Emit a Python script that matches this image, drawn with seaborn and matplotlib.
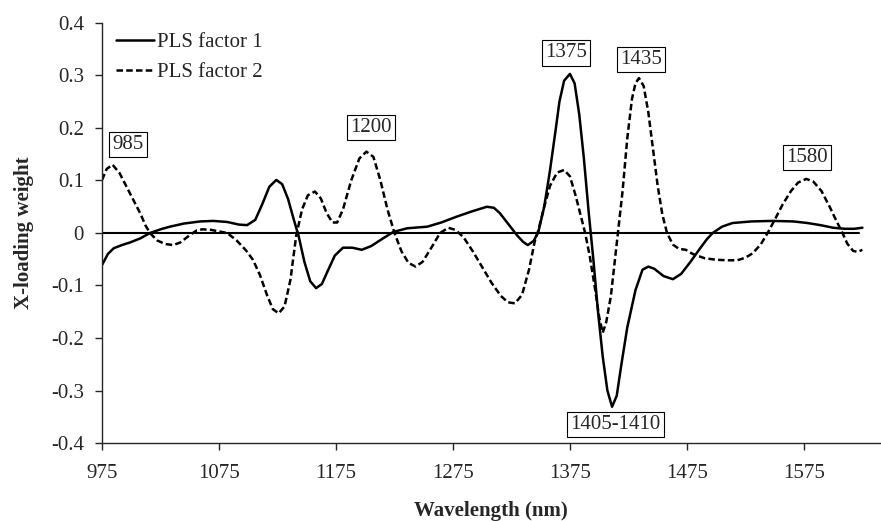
import numpy as np
import pandas as pd
import matplotlib
matplotlib.use("Agg")
import matplotlib.pyplot as plt
import seaborn as sns

# PLS x-loading weights
wl_f1 = [975, 980, 985, 992, 999, 1008, 1016, 1025, 1033, 1045, 1059, 1070, 1082, 1092, 1099,
         1106, 1112, 1118, 1124, 1129, 1134, 1139, 1143, 1148, 1153, 1158, 1163, 1168, 1174,
         1181, 1189, 1197, 1205, 1214, 1224, 1236, 1253, 1265, 1278, 1291, 1304, 1310, 1315,
         1322, 1330, 1335, 1339, 1344, 1348, 1353, 1358, 1363, 1366, 1370, 1375, 1379, 1383,
         1387, 1391, 1395, 1399, 1403, 1407, 1411, 1415, 1419, 1424, 1431, 1437, 1442, 1447,
         1455, 1463, 1470, 1478, 1486, 1492, 1497, 1505, 1514, 1530, 1548, 1566, 1578, 1589,
         1600, 1610, 1618, 1625]
factor1 = [-0.061, -0.040, -0.029, -0.023, -0.018, -0.010, 0.000, 0.007, 0.012, 0.018, 0.022,
           0.023, 0.021, 0.016, 0.015, 0.025, 0.055, 0.088, 0.101, 0.093, 0.065, 0.025, -0.005,
           -0.055, -0.092, -0.105, -0.097, -0.072, -0.043, -0.028, -0.028, -0.032, -0.025,
           -0.012, 0.002, 0.009, 0.012, 0.020, 0.031, 0.041, 0.050, 0.048, 0.038, 0.018, -0.005,
           -0.017, -0.023, -0.015, 0.002, 0.050, 0.120, 0.200, 0.250, 0.290, 0.303, 0.285, 0.225,
           0.140, 0.040, -0.050, -0.150, -0.235, -0.300, -0.331, -0.310, -0.250, -0.180, -0.109,
           -0.070, -0.064, -0.068, -0.082, -0.088, -0.078, -0.055, -0.030, -0.012, 0.000, 0.012,
           0.019, 0.022, 0.023, 0.022, 0.019, 0.015, 0.010, 0.008, 0.008, 0.010]

wl_f2 = [975, 979, 984, 990, 996, 1002, 1008, 1012, 1016, 1022, 1029, 1036, 1042, 1050, 1056,
         1061, 1068, 1075, 1082, 1090, 1098, 1104, 1110, 1116, 1121, 1126, 1131, 1136, 1141,
         1146, 1151, 1157, 1162, 1167, 1172, 1176, 1181, 1188, 1195, 1201, 1207, 1213, 1219,
         1225, 1231, 1237, 1243, 1249, 1256, 1264, 1271, 1277, 1284, 1292, 1300, 1308, 1316,
         1322, 1328, 1334, 1340, 1345, 1348, 1353, 1358, 1364, 1370, 1375, 1380, 1384, 1388,
         1392, 1396, 1400, 1403, 1406, 1410, 1414, 1416, 1420, 1424, 1428, 1431, 1434, 1438,
         1442, 1446, 1450, 1454, 1458, 1463, 1468, 1474, 1480, 1490, 1500, 1510, 1518, 1525,
         1531, 1538, 1544, 1550, 1557, 1564, 1570, 1577, 1583, 1590, 1597, 1603, 1608, 1612,
         1617, 1621, 1625]
factor2 = [0.101, 0.122, 0.130, 0.114, 0.088, 0.062, 0.036, 0.015, 0.000, -0.014, -0.021,
           -0.023, -0.018, -0.004, 0.005, 0.007, 0.006, 0.003, 0.000, -0.014, -0.033, -0.051,
           -0.080, -0.118, -0.145, -0.153, -0.140, -0.090, -0.005, 0.045, 0.072, 0.079, 0.066,
           0.038, 0.020, 0.020, 0.045, 0.100, 0.142, 0.155, 0.145, 0.100, 0.045, 0.000, -0.035,
           -0.057, -0.064, -0.055, -0.030, 0.000, 0.010, 0.006, -0.008, -0.035, -0.065, -0.095,
           -0.120, -0.132, -0.134, -0.118, -0.070, -0.015, 0.005, 0.050, 0.090, 0.115, 0.120,
           0.108, 0.070, 0.035, 0.000, -0.045, -0.100, -0.160, -0.190, -0.170, -0.120, -0.040,
           0.000, 0.080, 0.180, 0.255, 0.285, 0.295, 0.280, 0.230, 0.160, 0.090, 0.035, 0.000,
           -0.022, -0.030, -0.032, -0.040, -0.048, -0.051, -0.052, -0.052, -0.047, -0.039,
           -0.022, 0.000, 0.025, 0.055, 0.080, 0.096, 0.103, 0.098, 0.080, 0.050, 0.022, 0.000,
           -0.020, -0.034, -0.036, -0.032]

zero_x = [975, 1622]
zero_y = [0, 0]

# peak annotations: label, wavelength, y position of box
ann_text = ["985", "1200", "1375", "1435", "1580", "1405-1410"]
ann_x = [997, 1205, 1372, 1436, 1578, 1414]
ann_y = [0.168, 0.201, 0.343, 0.330, 0.144, -0.365]

sns.set_style("ticks")
plt.rcParams['font.family'] = ['Liberation Serif', 'DejaVu Serif']
plt.rcParams['axes.linewidth'] = 1.0

fig = plt.figure(figsize=(8.81, 5.21), dpi=100)
ax = fig.add_axes([0.1158, 0.1497, 0.883, 0.8062])

df1 = pd.DataFrame({'wl': wl_f1, 'w': factor1})
df2 = pd.DataFrame({'wl': wl_f2, 'w': factor2})

sns.lineplot(data=df1, x='wl', y='w', ax=ax, color='black', lw=1.8, label='PLS factor 1',
             solid_joinstyle='round')
sns.lineplot(data=df2, x='wl', y='w', ax=ax, color='black', lw=1.8,
             linestyle=(0, (2.6, 1.3)), label='PLS factor 2')
ax.plot(zero_x, zero_y, color='black', lw=1.5, zorder=1)

for t, x, y in zip(ann_text, ann_x, ann_y):
    ax.text(x, y, t, ha='center', va='center', fontsize=15,
            bbox=dict(boxstyle='square,pad=0.15', fc='white', ec='black', lw=0.8))

ax.set_xlim(975, 1640)
ax.set_ylim(-0.4, 0.4)
ax.set_xticks([975, 1075, 1175, 1275, 1375, 1475, 1575])
ax.set_yticks(np.round(np.arange(-0.4, 0.41, 0.1), 1))
ax.set_yticklabels(['-0.4', '-0.3', '-0.2', '-0.1', '0', '0.1', '0.2', '0.3', '0.4'])
ax.tick_params(labelsize=15, length=5, width=1.0, direction='out')
ax.tick_params(axis='x', pad=10)
ax.tick_params(axis='y', pad=8)
sns.despine(ax=ax)

ax.set_xlabel('Wavelength (nm)', fontsize=15, fontweight='bold', labelpad=13)
ax.set_ylabel('X-loading weight', fontsize=15, fontweight='bold', labelpad=12)

ax.legend(loc='upper left', bbox_to_anchor=(-0.005, 1.02), frameon=False, fontsize=15,
          handlelength=1.85, handletextpad=0.12, labelspacing=0.5, borderaxespad=0.45)

fig.savefig('out.png', dpi=100)
